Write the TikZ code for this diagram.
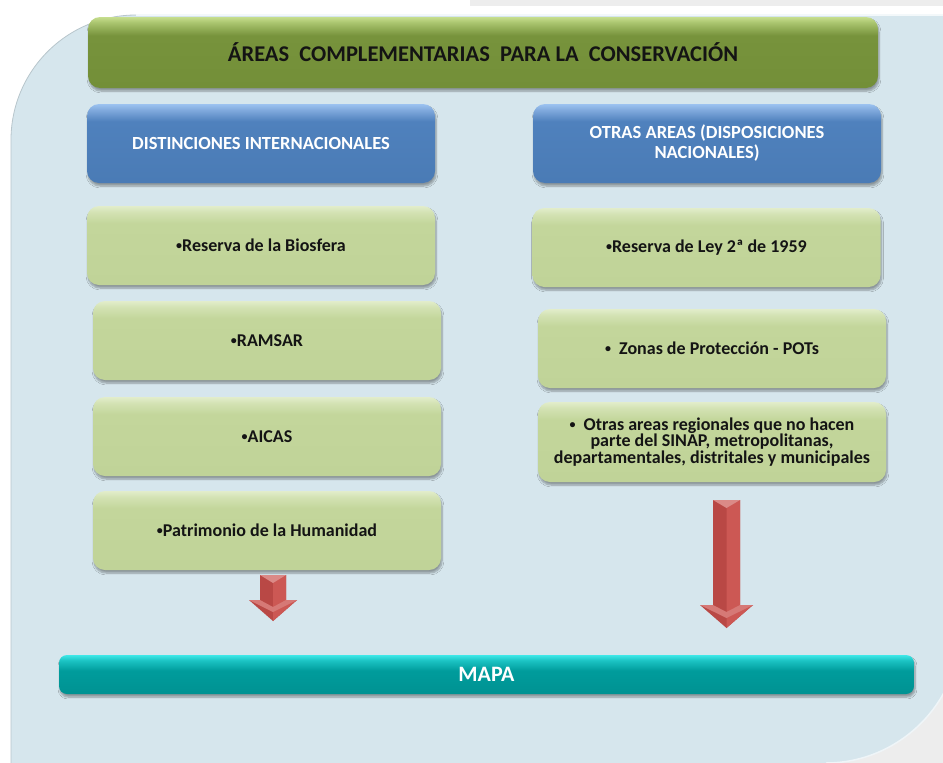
\documentclass[tikz,border=0pt]{standalone}
\usepackage{fontspec}
\setmainfont{Carlito}
\usetikzlibrary{shadows.blur}
\definecolor{panelc}{HTML}{D6E6ED}
\definecolor{graybg}{HTML}{EDEDED}
\definecolor{edgec}{HTML}{B8C6CC}
\definecolor{tgB}{HTML}{738F38}
\definecolor{tgM}{HTML}{77933C}
\definecolor{tgL}{HTML}{A9C46E}
\definecolor{tgH}{HTML}{C6DE8E}
\definecolor{blB}{HTML}{4A7BB5}
\definecolor{blM}{HTML}{4F81BD}
\definecolor{blL}{HTML}{7FA8DC}
\definecolor{blH}{HTML}{9CC2F0}
\definecolor{lgB}{HTML}{C0D398}
\definecolor{lgM}{HTML}{C3D69B}
\definecolor{lgL}{HTML}{D3E2B3}
\definecolor{lgH}{HTML}{E2EDCB}
\definecolor{teB}{HTML}{009292}
\definecolor{teM}{HTML}{009C9C}
\definecolor{teL}{HTML}{1BC3C3}
\definecolor{teH}{HTML}{3FE8E8}
\definecolor{arD}{HTML}{B94845}
\definecolor{arL}{HTML}{CC5854}
\definecolor{txt}{HTML}{141414}
\pgfdeclareverticalshading{tgshade}{100bp}{color(0bp)=(tgB); color(25bp)=(tgB); color(62bp)=(tgM); color(71bp)=(tgL); color(75bp)=(tgH); color(100bp)=(tgH)}
\pgfdeclareverticalshading{blshade}{100bp}{color(0bp)=(blB); color(25bp)=(blB); color(64bp)=(blM); color(71bp)=(blL); color(75bp)=(blH); color(100bp)=(blH)}
\pgfdeclareverticalshading{lgshade}{100bp}{color(0bp)=(lgB); color(25bp)=(lgB); color(64bp)=(lgM); color(71bp)=(lgL); color(75bp)=(lgH); color(100bp)=(lgH)}
\pgfdeclareverticalshading{teshade}{100bp}{color(0bp)=(teB); color(25bp)=(teB); color(55bp)=(teM); color(68bp)=(teL); color(75bp)=(teH); color(100bp)=(teH)}
\newcommand{\bul}{\raisebox{1.8pt}{\fontsize{12}{12}\selectfont •}}
\tikzset{
  boxbase/.style={rounded corners=12pt, inner sep=0pt, align=center,
    blur shadow={shadow xshift=1pt, shadow yshift=-3pt, shadow blur steps=6, shadow opacity=35}},
  titlebox/.style={boxbase, shading=tgshade, minimum width=790pt, minimum height=71pt,
    font=\fontsize{22.5}{26}\selectfont\bfseries, text=txt},
  headbox/.style={boxbase, shading=blshade, minimum width=348pt, minimum height=79pt,
    font=\fontsize{18.5}{20}\selectfont\bfseries, text=white},
  itembox/.style={boxbase, shading=lgshade, minimum width=348pt, minimum height=79pt,
    font=\fontsize{18}{16.5}\selectfont\bfseries, text=txt},
  mapbox/.style={boxbase, rounded corners=8pt, shading=teshade, minimum width=855pt, minimum height=39pt,
    font=\fontsize{22}{24}\selectfont\bfseries, text=white},
}
\begin{document}
\begin{tikzpicture}[x=1pt,y=-1pt]
\useasboundingbox (0,0) rectangle (943,763);
\fill[white] (0,0) rectangle (943,763);
\fill[graybg] (470,0) rectangle (943,6);
\fill[graybg] (700,560) rectangle (943,763);
% panel
\fill[panelc] (11,775) -- (11,140) .. controls (11,71) and (67,15) .. (136,15)
  -- (960,15) -- (960,630) .. controls (960,703) and (899,763) .. (826,763) -- (826,775) -- cycle;
\draw[edgec, line width=0.8pt] (11,770) -- (11,140) .. controls (11,71) and (67,15) .. (136,15);
\draw[white!70!panelc, line width=1.5pt] (136,15) -- (960,15);
\draw[white!60!panelc, line width=1.5pt] (960,630) .. controls (960,703) and (899,763) .. (826,763);
% boxes
\node[titlebox] (title) at (483,52.5) {ÁREAS\ \ COMPLEMENTARIAS\ \ PARA LA\ \ CONSERVACIÓN};
\node[headbox] (dist) at (261,143.5) {DISTINCIONES INTERNACIONALES};
\node[headbox] (otras) at (707,143.5) {OTRAS AREAS (DISPOSICIONES\\NACIONALES)};
\node[itembox] (rb) at (261,245.5) {\bul Reserva de la Biosfera};
\node[itembox] (ramsar) at (267,340.5) {\bul RAMSAR};
\node[itembox] (aicas) at (267,436.5) {\bul AICAS};
\node[itembox] (patri) at (267,530.5) {\bul Patrimonio de la Humanidad};
\node[itembox] (ley) at (706.5,247.5) {\bul Reserva de Ley 2ª de 1959};
\node[itembox] (zonas) at (712,348.5) {\bul\ \ Zonas de Protección - POTs};
\node[itembox, minimum height=80pt] (regio) at (712,442) {\bul\ \ Otras areas regionales que no hacen\\parte del SINAP, metropolitanas,\\departamentales, distritales y municipales};
\node[mapbox] (mapa) at (486.5,674.5) {MAPA};
% arrows
\begin{scope}[blur shadow={shadow xshift=1pt, shadow yshift=-2pt, shadow blur steps=5, shadow opacity=30}]
\fill[arD] (260,575) -- (286,575) -- (286,600) -- (297,600) -- (273,621) -- (249,600) -- (260,600) -- cycle;
\fill[arD] (713,500) -- (740,500) -- (740,605) -- (753,605) -- (726.5,628) -- (700,605) -- (713,605) -- cycle;
\end{scope}
\fill[arL] (273,575) -- (286,575) -- (286,600) -- (297,600) -- (273,621) -- cycle;
\fill[arL] (726.5,500) -- (740,500) -- (740,605) -- (753,605) -- (726.5,628) -- cycle;
\fill[arL!70!white] (260,575) -- (286,575) -- (273,583) -- cycle;
\fill[arL!70!white] (713,500) -- (740,500) -- (726.5,508) -- cycle;
\fill[arL!80!white] (249,600) -- (260,600) -- (273,607) -- (286,600) -- (297,600) -- (273,612) -- cycle;
\fill[arL!80!white] (700,605) -- (713,605) -- (726.5,612) -- (740,605) -- (753,605) -- (726.5,618) -- cycle;
\end{tikzpicture}
\end{document}
